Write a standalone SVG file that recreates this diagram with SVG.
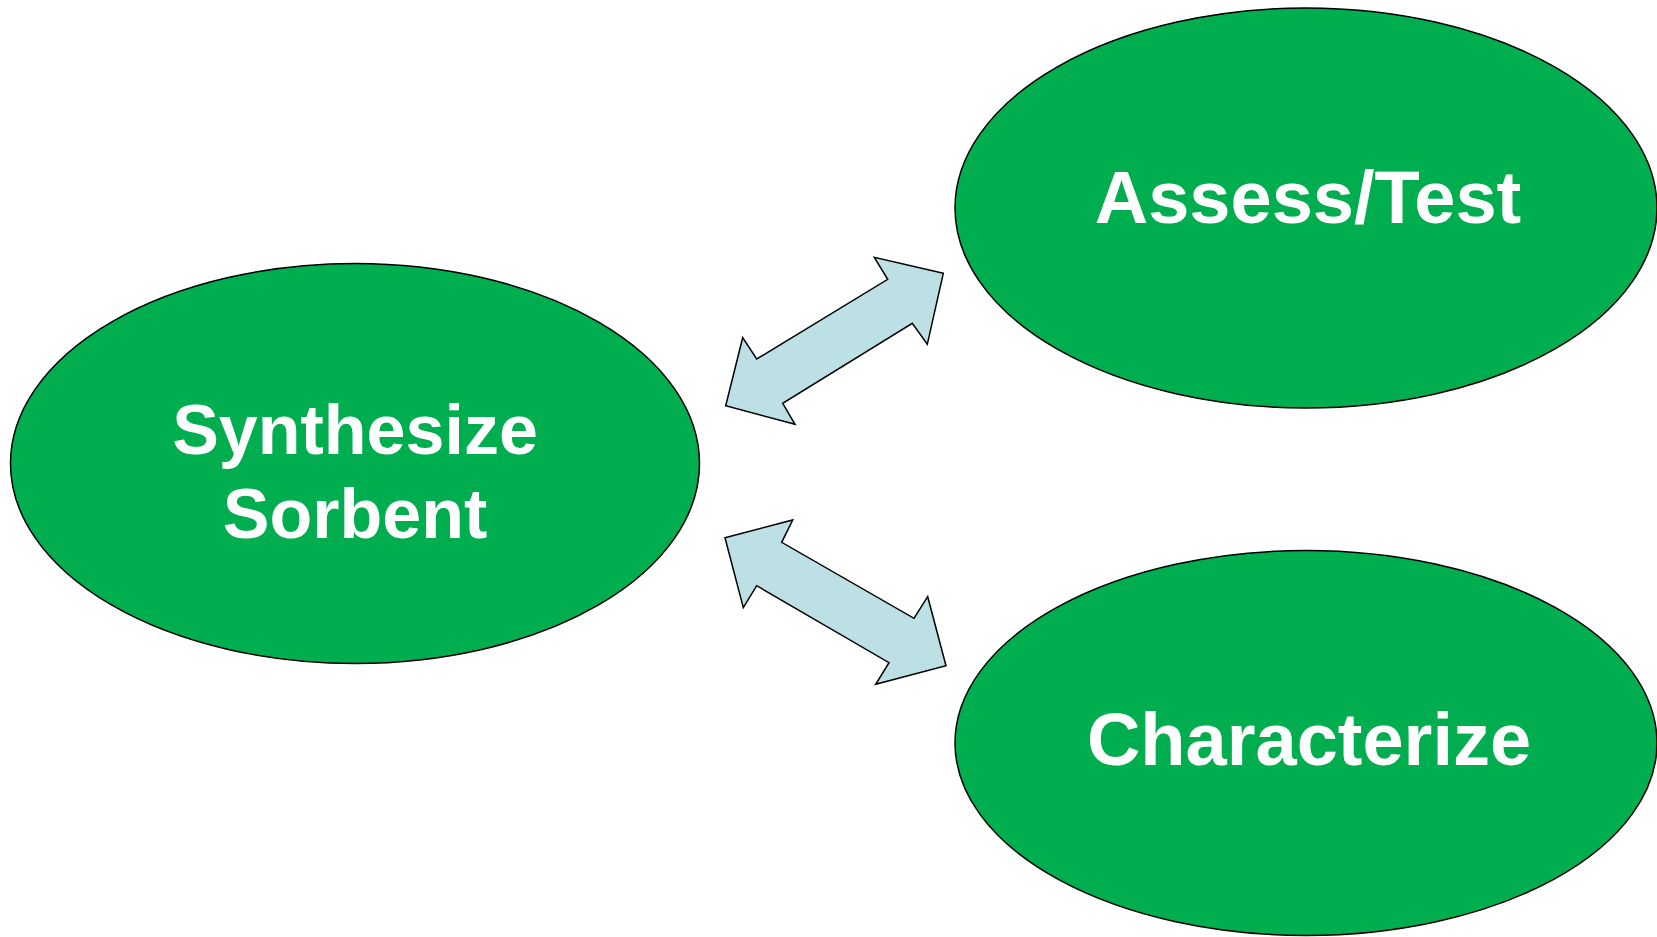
<svg xmlns="http://www.w3.org/2000/svg" width="1657" height="937" viewBox="0 0 1657 937">
<style>
.node{fill:#00AE4F;stroke:#000;stroke-width:1.5}
.lbl{fill:#fff;font-family:"Liberation Sans",Arial,sans-serif;font-weight:bold;text-anchor:middle}
.arr{fill:#BCE0E4;stroke:#000;stroke-width:1.5;stroke-linejoin:miter}
</style>
<rect width="1657" height="937" fill="#fff"/>
<g id="synthesize">
<ellipse class="node" cx="355" cy="463.5" rx="344.5" ry="200"/>
<text class="lbl" font-size="70" x="355" y="454">Synthesize</text>
<text class="lbl" font-size="70" x="355" y="538">Sorbent</text>
</g>
<g id="assess">
<ellipse class="node" cx="1306" cy="208" rx="351" ry="200"/>
<text class="lbl" font-size="74" x="1308" y="223">Assess/Test</text>
</g>
<g id="characterize">
<ellipse class="node" cx="1306" cy="743" rx="351" ry="192.5"/>
<text class="lbl" font-size="74" x="1309" y="765">Characterize</text>
</g>
<g id="connectors">
<polygon class="arr" points="943.3,273.3 874.3,257.3 887.7,279.3 756.7,359 742.7,337.7 725.7,405.7 795,424.3 782.7,403.3 912.3,323.3 927.3,344.3"/>
<polygon class="arr" points="725,537.7 792.7,520 781.7,542.3 914,618.3 927.7,596.7 946,665.7 875.7,684.3 889,662.7 756.7,585.7 743.3,607.7"/>
</g>
</svg>
